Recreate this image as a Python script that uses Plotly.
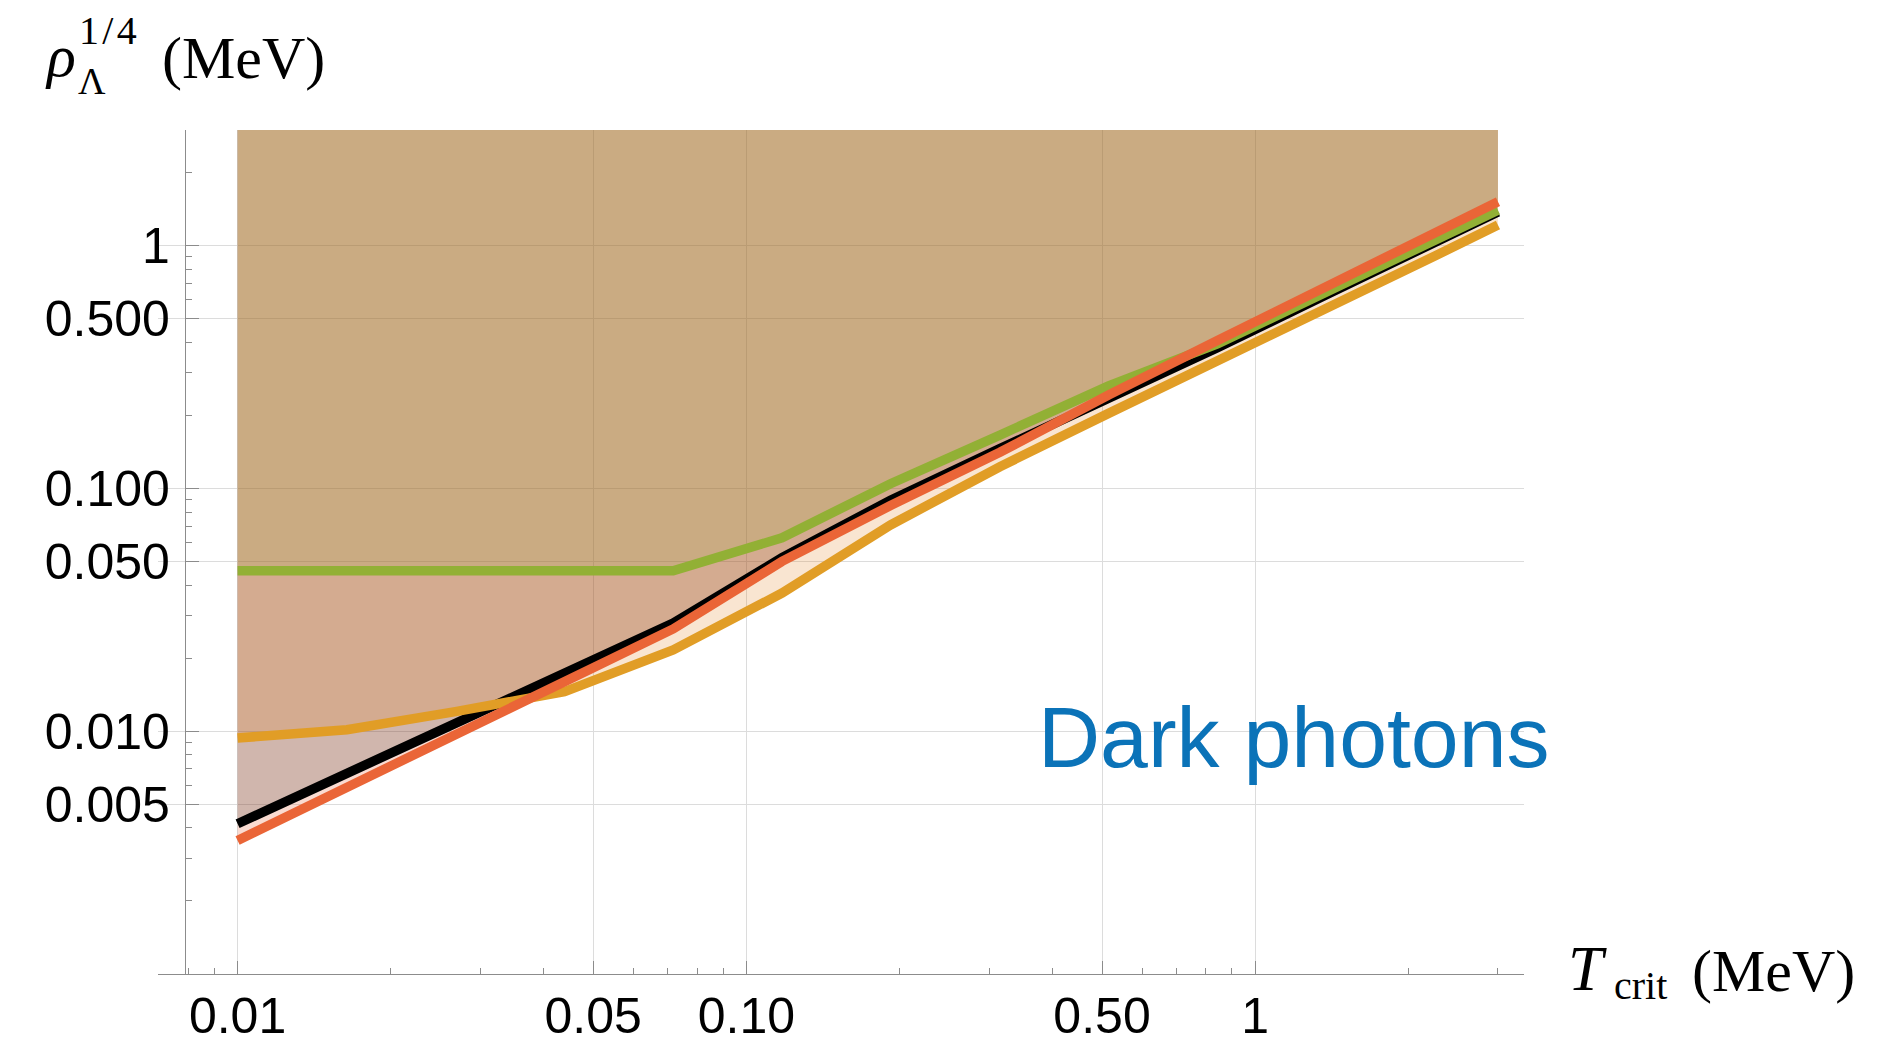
import plotly.graph_objects as go

# ---------------- data ----------------
T_crit = [0.01, 0.0164, 0.0268, 0.0439, 0.0718, 0.1175, 0.192, 0.315, 0.515, 0.843, 1.38, 2.26, 3.0]

rho_black  = [0.00416, 0.00668, 0.01076, 0.0170, 0.0279, 0.0519, 0.0895, 0.146, 0.234, 0.380, 0.628, 1.037, 1.380]
rho_red    = [0.00355, 0.00587, 0.00971, 0.01607, 0.0264, 0.0501, 0.0851, 0.141, 0.243, 0.407, 0.684, 1.135, 1.52]
rho_yellow = [0.00938, 0.01014, 0.01205, 0.01455, 0.02163, 0.0371, 0.0708, 0.123, 0.204, 0.333, 0.551, 0.910, 1.219]
rho_green  = [0.0458, 0.0458, 0.0458, 0.0458, 0.0458, 0.0627, 0.1047, 0.166, 0.265, 0.394, 0.646, 1.059, 1.403]

x_tick_vals = [0.01, 0.05, 0.1, 0.5, 1]
x_tick_text = ["0.01", "0.05", "0.10", "0.50", "1"]
x_minor_vals = [0.007, 0.008, 0.009, 0.02, 0.03, 0.04, 0.06, 0.07, 0.08, 0.09,
                0.2, 0.3, 0.4, 0.6, 0.7, 0.8, 0.9, 2, 3]
y_tick_vals = [0.005, 0.01, 0.05, 0.1, 0.5, 1]
y_tick_text = ["0.005", "0.010", "0.050", "0.100", "0.500", "1"]
y_minor_vals = [0.002, 0.003, 0.004, 0.006, 0.007, 0.008, 0.009,
                0.02, 0.03, 0.04, 0.06, 0.07, 0.08, 0.09,
                0.2, 0.3, 0.4, 0.6, 0.7, 0.8, 0.9, 2]

X_RANGE_LOG = [-2.1564, 0.5283]
Y_RANGE_LOG = [-3.0, 0.4771]
FILL_TOP = 10 ** Y_RANGE_LOG[1]

# ---------------- styles ----------------
OFF = 8                      # default page (body) margin of the html page
W, H = 1865, 1038
ML, MT = 150, 122
PW, PH = 1366, 844
MR, MB = W - ML - PW, H - MT - PH

GREEN = "#92B035"
RED = "#EA6537"
YELLOW = "#E19D26"
BLACK = "#000000"
BLUE = "#0B73B8"
AXIS_GRAY = "#8c8c8c"
GRID = "#dcdcdc"

series = [
    ("red", rho_red, "rgba(234,101,55,0.23)"),
    ("black", rho_black, "rgba(0,0,0,0.17)"),
    ("yellow", rho_yellow, "rgba(225,132,36,0.21)"),
    ("green", rho_green, "rgba(146,176,53,0.15)"),
]

fig = go.Figure()

# fills to the top of the plot
for name, ys, fcol in series:
    fig.add_trace(go.Scatter(x=T_crit, y=[FILL_TOP] * len(T_crit), mode="lines",
                             line=dict(width=0), hoverinfo="skip", showlegend=False))
    fig.add_trace(go.Scatter(x=T_crit, y=ys, mode="lines", line=dict(width=0),
                             fill="tonexty", fillcolor=fcol, hoverinfo="skip",
                             showlegend=False))

# lines on top
line_order = [("black", rho_black, BLACK), ("yellow", rho_yellow, YELLOW),
              ("green", rho_green, GREEN), ("red", rho_red, RED)]
for name, ys, col in line_order:
    fig.add_trace(go.Scatter(x=T_crit, y=ys, mode="lines", name=name,
                             line=dict(color=col, width=9.5), showlegend=False))

def px_x(page_px):
    return (page_px - OFF - ML) / PW

def px_y(page_py):
    return (MT + PH - (page_py - OFF)) / PH

yaxis_pos = px_x(185)

tick_font = dict(family="Liberation Sans, Arial, sans-serif", size=50, color="black")

fig.update_layout(
    width=W, height=H, autosize=False,
    margin=dict(l=ML, r=MR, t=MT, b=MB, pad=0),
    paper_bgcolor="white", plot_bgcolor="white",
    showlegend=False,
    xaxis=dict(
        type="log", range=X_RANGE_LOG, domain=[0, 1], automargin=False,
        showline=True, linecolor=AXIS_GRAY, linewidth=1.3,
        ticks="inside", ticklen=13, tickwidth=1.3, tickcolor=AXIS_GRAY,
        tickmode="array", tickvals=x_tick_vals, ticktext=x_tick_text,
        tickfont=tick_font, ticklabelstandoff=-2,
        showgrid=True, gridcolor=GRID, gridwidth=1.3, zeroline=False,
        minor=dict(tickmode="array", tickvals=x_minor_vals, ticks="inside",
                   ticklen=6, tickwidth=1.3, tickcolor=AXIS_GRAY, showgrid=False),
    ),
    yaxis=dict(
        type="log", range=Y_RANGE_LOG, domain=[0, 1], automargin=False,
        anchor="free", position=yaxis_pos,
        showline=True, linecolor=AXIS_GRAY, linewidth=1.3,
        ticks="inside", ticklen=13, tickwidth=1.3, tickcolor=AXIS_GRAY,
        tickmode="array", tickvals=y_tick_vals, ticktext=y_tick_text,
        tickfont=tick_font, ticklabelstandoff=5,
        showgrid=True, gridcolor=GRID, gridwidth=1.3, zeroline=False,
        minor=dict(tickmode="array", tickvals=y_minor_vals, ticks="inside",
                   ticklen=6, tickwidth=1.3, tickcolor=AXIS_GRAY, showgrid=False),
    ),
)

serif = "Liberation Serif, Times New Roman, serif"
sans = "Liberation Sans, Arial, sans-serif"

def label(text, left_px, bottom_px, size, family=serif, color="black"):
    fig.add_annotation(text=text, xref="paper", yref="paper",
                       x=px_x(left_px), y=px_y(bottom_px),
                       xanchor="left", yanchor="bottom", showarrow=False,
                       font=dict(family=family, size=size, color=color))

# y-axis title: rho_Lambda^{1/4} (MeV)
label("<i>ρ</i>", 43, 91, 60)
label("Λ", 76, 104, 38)
label("1\u200a/\u200a4", 77, 55, 40)
label("(MeV)", 160, 93, 60)

# x-axis title: T_crit (MeV)
label("<i>T</i>", 1566, 1006, 63)
label("crit", 1612, 1010, 40)
label("(MeV)", 1690, 1006, 60)

# in-plot label
label("Dark photons", 1036, 787, 86, family=sans, color=BLUE)

fig.write_html("out.html")
